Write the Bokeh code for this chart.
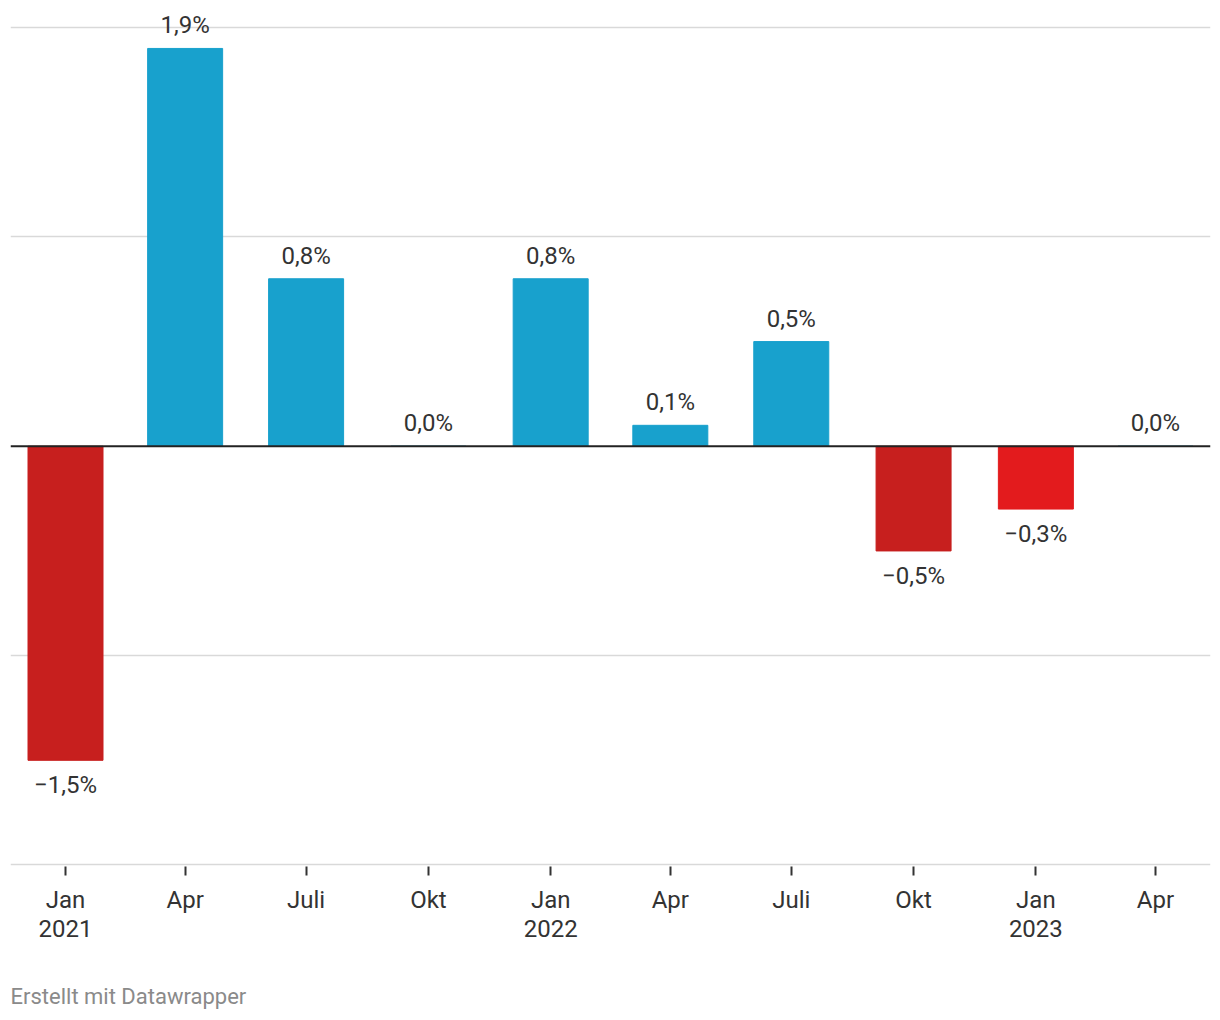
import pandas as pd
from bokeh.plotting import figure
from bokeh.models import (ColumnDataSource, Range1d, FixedTicker, LinearAxis, Span, Title)
from bokeh.core.properties import value
from bokeh.embed import file_html
from bokeh.resources import INLINE

# --- data ---
dates = ["2021-01-01", "2021-04-01", "2021-07-01", "2021-10-01", "2022-01-01",
         "2022-04-01", "2022-07-01", "2022-10-01", "2023-01-01", "2023-04-01"]
month_labels = ["Jan", "Apr", "Juli", "Okt", "Jan", "Apr", "Juli", "Okt", "Jan", "Apr"]
year_labels = {"2021-01-01": "2021", "2022-01-01": "2022", "2023-01-01": "2023"}
values = [-1.5, 1.9, 0.8, 0.0, 0.8, 0.1, 0.5, -0.5, -0.3, 0.0]

BLUE = "#18a1cd"
DARK_RED = "#c71f1e"
BRIGHT_RED = "#e31b1d"
highlight = "2023-01-01"

FONT = "Roboto"
TXT = "#333333"
FS = "24px"

t0 = pd.Timestamp(dates[0])
days = [(pd.Timestamp(d) - t0).days for d in dates]
colors = []
for d, v in zip(dates, values):
    if v < 0:
        colors.append(BRIGHT_RED if d == highlight else DARK_RED)
    else:
        colors.append(BLUE)

def fmt(v):
    s = f"{abs(v):.1f}".replace(".", ",") + "%"
    return ("\u2212" + s) if v < 0 else s

labels = [fmt(v) for v in values]
pos = [v >= 0 for v in values]

src = ColumnDataSource(dict(x=days, top=values, color=colors))
src_pos = ColumnDataSource(dict(x=[x for x, p in zip(days, pos) if p],
                                y=[v for v, p in zip(values, pos) if p],
                                t=[l for l, p in zip(labels, pos) if p]))
src_neg = ColumnDataSource(dict(x=[x for x, p in zip(days, pos) if not p],
                                y=[v for v, p in zip(values, pos) if not p],
                                t=[l for l, p in zip(labels, pos) if not p]))

pxday = (1155 - 65) / days[-1]
xl = -55 / pxday
xr = days[-1] + 55 / pxday
pxu = (864 - 27) / 4.0
ytop = 2 + 27 / pxu
ybot = -2 - 1.5 / pxu

p = figure(frame_width=1200, frame_height=866, output_backend="svg", toolbar_location=None,
           x_range=Range1d(xl, xr), y_range=Range1d(ybot, ytop),
           min_border_left=10, min_border_right=10, min_border_top=0, min_border_bottom=0,
           background_fill_color="white", border_fill_color="white",
           x_axis_location=None, y_axis_location=None)
p.outline_line_color = None
p.xgrid.visible = False
p.ygrid.ticker = FixedTicker(ticks=[-2, -1, 1, 2])
p.ygrid.grid_line_color = "#d9d9d9"
p.ygrid.grid_line_width = 1.5

bar_w = 75 / pxday
p.vbar(x="x", top="top", bottom=0, width=bar_w, color="color", source=src)

p.add_layout(Span(location=0, dimension="width", line_color="#222222", line_width=2))

p.text(x="x", y="y", text="t", source=src_pos, text_align="center", text_baseline="middle",
       y_offset=-23, text_font=value(FONT), text_font_size=FS, text_color=TXT)
p.text(x="x", y="y", text="t", source=src_neg, text_align="center", text_baseline="middle",
       y_offset=25, text_font=value(FONT), text_font_size=FS, text_color=TXT)

ax1 = LinearAxis(ticker=FixedTicker(ticks=days),
                 major_label_overrides={d: m for d, m in zip(days, month_labels)})
ax1.axis_line_color = None
ax1.major_tick_in = 0
ax1.major_tick_out = 9
ax1.major_tick_line_color = TXT
ax1.major_tick_line_width = 2
ax1.minor_tick_line_color = None
ax1.major_label_standoff = 10
ax1.major_label_text_font = FONT
ax1.major_label_text_font_size = FS
ax1.major_label_text_color = TXT
p.add_layout(ax1, "below")

ydays = [(pd.Timestamp(d) - t0).days for d in year_labels]
ax2 = LinearAxis(ticker=FixedTicker(ticks=ydays),
                 major_label_overrides={d: y for d, y in zip(ydays, year_labels.values())})
ax2.axis_line_color = None
ax2.major_tick_in = 0
ax2.major_tick_out = 0
ax2.major_tick_line_color = None
ax2.minor_tick_line_color = None
ax2.major_label_standoff = 3
ax2.major_label_text_font = FONT
ax2.major_label_text_font_size = FS
ax2.major_label_text_color = TXT
p.add_layout(ax2, "below")

p.add_layout(Title(text="Erstellt mit Datawrapper", align="left", text_font=FONT,
                   text_font_size="22px", text_font_style="normal", text_color="#8a8a8a",
                   standoff=84), "below")

open("out.html", "w").write(file_html(p, INLINE))
